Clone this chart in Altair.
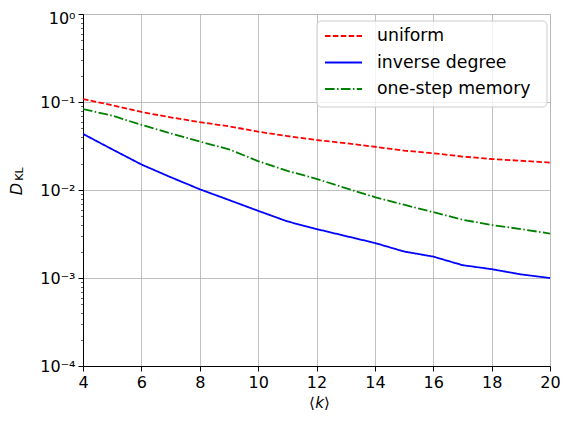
import altair as alt
import pandas as pd

k = list(range(4, 21))
uniform = [0.108, 0.092, 0.077, 0.067, 0.059, 0.053, 0.046, 0.041, 0.037,
           0.034, 0.031, 0.028, 0.0262, 0.024, 0.0225, 0.0215, 0.0205]
inverse_degree = [0.0434, 0.029, 0.0195, 0.014, 0.0102, 0.0077, 0.0058, 0.0044, 0.0036,
                  0.003, 0.0025, 0.002, 0.00175, 0.0014, 0.00126, 0.0011, 0.001]
one_step_memory = [0.083, 0.07, 0.055, 0.044, 0.0355, 0.029, 0.0213, 0.0165, 0.0134,
                   0.0105, 0.0083, 0.0068, 0.0056, 0.0046, 0.004, 0.0036, 0.0032]

series_names = ["uniform", "inverse degree", "one-step memory"]
series_colors = ["#ff0000", "#0000ff", "#008000"]
series_dashes = [[5.5, 2.4], [1, 0], [9.6, 2.4, 1.5, 2.4]]

x_ticks = [4, 6, 8, 10, 12, 14, 16, 18, 20]
y_ticks = [1e-4, 1e-3, 1e-2, 1e-1, 1]
y_tick_labels = ["10⁻⁴", "10⁻³", "10⁻²", "10⁻¹", "10⁰"]
y_minor = [m * 10.0 ** e for e in range(-4, 0) for m in range(2, 10)]

rows = []
for name, vals in zip(series_names, [uniform, inverse_degree, one_step_memory]):
    for kk, v in zip(k, vals):
        rows.append({"k": kk, "D": v, "series": name})
df = pd.DataFrame(rows)

FONT = "DejaVu Sans"
W, H = 467, 352

label_expr = " : ".join(
    [f"datum.value < {t*1.5:g} && datum.value > {t/1.5:g} ? '{lab}'" for t, lab in zip(y_ticks, y_tick_labels)]
) + " : ''"

yscale = alt.Scale(type="log", domain=[1e-4, 1], nice=False)
cscale = alt.Scale(domain=series_names, range=series_colors)
dscale = alt.Scale(domain=series_names, range=series_dashes)

lines = alt.Chart(df).mark_line(strokeWidth=1.8, clip=True).encode(
    x=alt.X("k:Q", scale=alt.Scale(domain=[4, 20], nice=False),
            axis=alt.Axis(values=x_ticks, title=None, grid=True, gridColor="#b0b0b0",
                          gridWidth=0.8, labelFontSize=16, labelFont=FONT, labelColor="black",
                          tickColor="black", tickSize=5, domainColor="black", labelPadding=3,
                          labelFlush=False)),
    y=alt.Y("D:Q", scale=yscale,
            axis=alt.Axis(values=y_ticks, labelExpr=label_expr, title=None, grid=True, orient="left",
                          gridColor="#b0b0b0", gridWidth=0.8, labelFontSize=16, labelFont=FONT,
                          labelColor="black", tickColor="black", tickSize=5,
                          labelOffset={"condition": {"test": "datum.value > 0.5", "value": 4}, "value": 0},
                          domainColor="black", labelPadding=3)),
    color=alt.Color("series:N", scale=cscale, legend=None),
    strokeDash=alt.StrokeDash("series:N", scale=dscale, legend=None),
)

minor = alt.Chart(pd.DataFrame({"v": y_minor})).mark_point(opacity=0).encode(
    y=alt.Y("v:Q", scale=yscale,
            axis=alt.Axis(values=y_minor, labels=False, grid=False, domain=False, orient="left",
                          tickColor="black", tickSize=2.5, tickWidth=0.6, title=None))
)

# legend (box, samples, labels)
leg = pd.DataFrame({"series": series_names, "row": [0, 1, 2]})
rowscale = alt.Scale(domain=[0, 2], range=[22, 75])
box = alt.Chart(pd.DataFrame({"a": [0]})).mark_rect(
    fill="white", fillOpacity=0.8, stroke="#cccccc", strokeWidth=1, cornerRadius=4).encode(
    x=alt.value(234), x2=alt.value(464), y=alt.value(7), y2=alt.value(93))
samples = alt.Chart(leg).mark_rule(strokeWidth=1.8).encode(
    x=alt.value(242), x2=alt.value(279),
    y=alt.Y("row:Q", scale=rowscale, axis=None),
    color=alt.Color("series:N", scale=cscale, legend=None),
    strokeDash=alt.StrokeDash("series:N", scale=dscale, legend=None),
)
labels = alt.Chart(leg).mark_text(font=FONT, fontSize=17.3, align="left", baseline="middle",
                                  color="black").encode(
    x=alt.value(294),
    y=alt.Y("row:Q", scale=rowscale, axis=None),
    text="series:N",
)

one = pd.DataFrame({"a": [0]})
ytitle_d = alt.Chart(one).mark_text(text="D", font=FONT, fontSize=16, fontStyle="italic",
                                    angle=270, align="center", baseline="middle").encode(
    x=alt.value(-66), y=alt.value(175))
ytitle_kl = alt.Chart(one).mark_text(text="KL", font=FONT, fontSize=11,
                                     angle=270, align="center", baseline="middle").encode(
    x=alt.value(-63), y=alt.value(160))
xt_l = alt.Chart(one).mark_text(text="⟨", font=FONT, fontSize=15, align="center",
                                baseline="middle").encode(x=alt.value(229), y=alt.value(389))
xt_k = alt.Chart(one).mark_text(text="k", font=FONT, fontSize=15, fontStyle="italic",
                                align="center", baseline="middle").encode(x=alt.value(236.5), y=alt.value(389))
xt_r = alt.Chart(one).mark_text(text="⟩", font=FONT, fontSize=15, align="center",
                                baseline="middle").encode(x=alt.value(244), y=alt.value(389))

chart = alt.layer(minor, lines, box, samples, labels, ytitle_d, ytitle_kl, xt_l, xt_k, xt_r).resolve_scale(
    y="independent").resolve_axis(y="independent").properties(
    width=W, height=H,
    autosize=alt.AutoSizeParams(type="none"),
    padding={"left": 75, "top": 6, "right": 10, "bottom": 48},
).configure_view(stroke="black", strokeWidth=1).configure(font=FONT)

chart.save("out.html", embed_options={"renderer": "svg", "actions": False})
